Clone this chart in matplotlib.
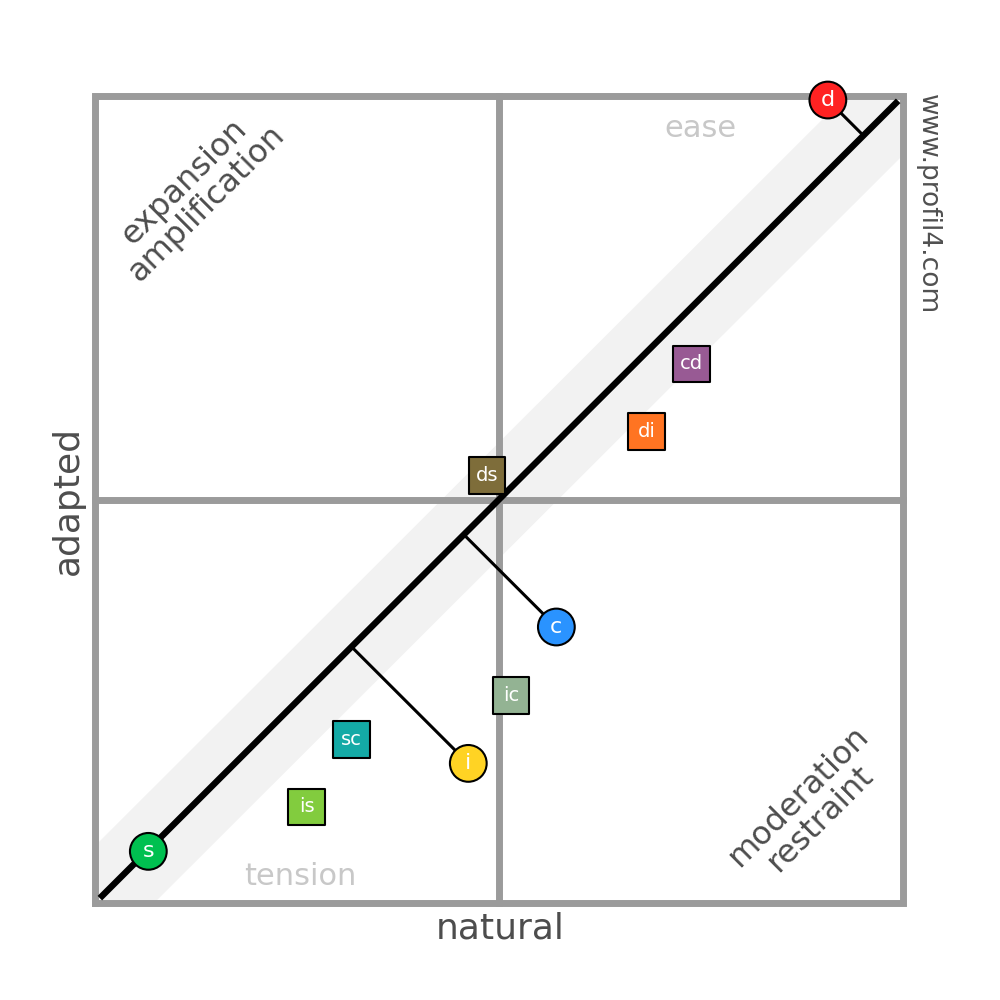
import matplotlib
matplotlib.use("Agg")
import matplotlib.pyplot as plt
import numpy as np

# square layout in unit coords: natural (x) vs adapted (y)
BAND = 0.072

circle_labels = ["d", "s", "c", "i"]
circle_x = [0.907, 0.066, 0.571, 0.462]
circle_y = [0.995, 0.064, 0.342, 0.173]
circle_colors = ["#ff2222", "#00c050", "#2a93ff", "#ffd324"]

square_labels = ["cd", "di", "ds", "ic", "sc", "is"]
square_x = [0.738, 0.683, 0.485, 0.515, 0.317, 0.262]
square_y = [0.668, 0.584, 0.530, 0.257, 0.203, 0.119]
square_colors = ["#985a94", "#ff7422", "#7e6d3a", "#93b393", "#14aaa6", "#82cc3e"]

FRAME = "#9b9b9b"
DARK = "#4d4d4d"
LIGHT = "#c8c8c8"

fig = plt.figure(figsize=(10, 10), dpi=100)
ax = fig.add_axes([0.095, 0.097, 0.808, 0.807])
ax.set_xlim(0, 1)
ax.set_ylim(0, 1)
ax.axis("off")

# grey band around the diagonal
xs = np.array([0.0, 1.0])
ax.fill_between(xs, xs - BAND, xs + BAND, color="#f2f2f2", lw=0, zorder=0)

# frame and quadrant lines
ax.plot([0, 1, 1, 0, 0], [0, 0, 1, 1, 0], color=FRAME, lw=5, zorder=2,
        clip_on=False, solid_joinstyle="miter")
ax.plot([0.5, 0.5], [0, 1], color=FRAME, lw=5, zorder=2, clip_on=False)
ax.plot([0, 1], [0.5, 0.5], color=FRAME, lw=5, zorder=2, clip_on=False)

# diagonal
ax.plot([0.006, 0.994], [0.006, 0.994], color="black", lw=4.6, zorder=3,
        solid_capstyle="butt")

# connectors from circles to the diagonal
for x, y in zip(circle_x, circle_y):
    foot = (x + y) / 2
    if abs(x - y) > 0.01:
        ax.plot([x, foot], [y, foot], color="black", lw=2.2, zorder=4,
                clip_on=False)

ax.scatter(circle_x, circle_y, s=700, marker="o", c=circle_colors,
           edgecolors="black", linewidths=1.5, zorder=5, clip_on=False)
for lab, x, y in zip(circle_labels, circle_x, circle_y):
    ax.text(x, y, lab, color="white", fontsize=16, ha="center", va="center",
            zorder=6)

ax.scatter(square_x, square_y, s=700, marker="s", c=square_colors,
           edgecolors="black", linewidths=1.5, zorder=5, clip_on=False)
for lab, x, y in zip(square_labels, square_x, square_y):
    ax.text(x, y, lab, color="white", fontsize=14, ha="center", va="center",
            zorder=6)

# quadrant captions
ax.text(0.749, 0.960, "ease", color=LIGHT, fontsize=22, ha="center", va="center")
ax.text(0.254, 0.033, "tension", color=LIGHT, fontsize=22, ha="center", va="center")
ax.text(0.124, 0.880, "expansion\namplification", color=DARK, fontsize=23,
        rotation=45, ha="center", va="center", multialignment="center",
        rotation_mode="anchor", linespacing=1.0)
ax.text(0.884, 0.118, "moderation\nrestraint", color=DARK, fontsize=23,
        rotation=45, ha="center", va="center", multialignment="center",
        rotation_mode="anchor", linespacing=1.0)

# axis names
ax.text(0.501, -0.031, "natural", color=DARK, fontsize=26, ha="center", va="center")
ax.text(-0.034, 0.499, "adapted", color=DARK, fontsize=26, ha="center",
        va="center", rotation=90)
ax.text(1.031, 0.866, "www.profil4.com", color="#505050", fontsize=19,
        ha="center", va="center", rotation=-90)

fig.savefig("out.png", dpi=100)
